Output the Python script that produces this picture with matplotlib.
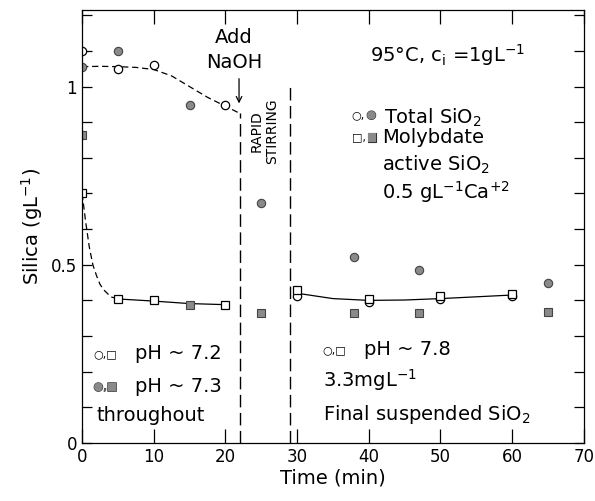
import matplotlib
matplotlib.use("Agg")
from matplotlib import pyplot as plt
from matplotlib import patheffects as pe

plt.rcParams['font.family'] = ['DejaVu Sans']
plt.rcParams['mathtext.fontset'] = 'dejavusans'

# measured points, first period (before NaOH)
t_total_open = [0, 5, 10, 20]
y_total_open = [1.10, 1.05, 1.06, 0.947]
t_total_fill = [0, 5, 15, 25]
y_total_fill = [1.056, 1.10, 0.947, 0.674]
t_moly_open = [0, 5, 10, 20]
y_moly_open = [0.70, 0.404, 0.40, 0.388]
t_moly_fill = [0, 15, 25]
y_moly_fill = [0.865, 0.388, 0.365]

# after NaOH
t_late_open = [30, 40, 50, 60]
y_late_circ = [0.412, 0.395, 0.405, 0.412]
y_late_sq = [0.428, 0.405, 0.413, 0.418]
t_late_fill_c = [38, 47, 65]
y_late_fill_c = [0.522, 0.486, 0.449]
t_late_fill_s = [38, 47, 65]
y_late_fill_s = [0.365, 0.365, 0.368]

# hand drawn trend curves
t_curve1 = [0, 2.5, 5, 7.5, 10, 12.5, 15, 17.5, 20, 22]
y_curve1 = [1.056, 1.057, 1.056, 1.054, 1.048, 1.030, 1.000, 0.970, 0.945, 0.925]
t_curve2 = [0, 0.5, 1, 1.5, 2, 2.5, 3, 4, 5]
y_curve2 = [0.70, 0.62, 0.55, 0.50, 0.47, 0.445, 0.43, 0.41, 0.404]
t_curve3 = [5, 10, 15, 20]
y_curve3 = [0.404, 0.398, 0.391, 0.388]
t_curve4 = [30, 35, 40, 45, 50, 55, 60]
y_curve4 = [0.420, 0.405, 0.400, 0.401, 0.405, 0.410, 0.415]

t_naoh = 22
t_stir_end = 29

fig = plt.figure(figsize=(5.95, 5.01), dpi=100)
ax = fig.add_axes([0.138, 0.116, 0.843, 0.864])

gray = '#8a8a8a'
ax.plot(t_curve1, y_curve1, color='k', lw=0.9, ls=(0, (5, 3)))
ax.plot(t_curve2, y_curve2, color='k', lw=0.9, ls=(0, (5, 3)))
ax.plot(t_curve3, y_curve3, color='k', lw=0.9)
ax.plot(t_curve4, y_curve4, color='k', lw=0.9)

ax.plot([t_naoh, t_naoh], [0, y_curve1[-1]], color='k', lw=1.0, ls=(0, (9, 4)))
ax.plot([t_stir_end, t_stir_end], [0, 1.0], color='k', lw=1.0, ls=(0, (9, 4)))

ms = 6
ax.plot(t_total_open, y_total_open, 'o', ms=ms, mfc='white', mec='k', mew=0.9)
ax.plot(t_late_open, y_late_circ, 'o', ms=ms, mfc='white', mec='k', mew=0.9)
ax.plot(t_total_fill, y_total_fill, 'o', ms=ms, mfc=gray, mec='#444444', mew=0.8)
ax.plot(t_late_fill_c, y_late_fill_c, 'o', ms=ms, mfc=gray, mec='#444444', mew=0.8)
ax.plot(t_moly_open, y_moly_open, 's', ms=ms, mfc='white', mec='k', mew=0.9)
ax.plot(t_late_open, y_late_sq, 's', ms=ms, mfc='white', mec='k', mew=0.9)
ax.plot(t_moly_fill, y_moly_fill, 's', ms=ms, mfc=gray, mec='#444444', mew=0.8)
ax.plot(t_late_fill_s, y_late_fill_s, 's', ms=ms, mfc=gray, mec='#444444', mew=0.8)

ax.set_xlim(0, 70)
ax.set_ylim(0, 1.215)
ax.set_xticks(range(0, 71, 10))
ax.set_yticks([0, 0.5, 1.0])
ax.set_yticklabels(['0', '0.5', '1'])
ax.set_yticks([i / 10 for i in range(0, 13)], minor=True)
ax.tick_params(direction='in', top=True, right=True, labelsize=12, length=10, width=0.9)
ax.tick_params(axis='y', which='both', length=7, width=0.9, direction='in', right=True)
for s in ax.spines.values():
    s.set_linewidth(0.9)

ax.set_xlabel('Time (min)', fontsize=14, labelpad=2)
ax.set_ylabel('Silica (gL$^{-1}$)', fontsize=14, labelpad=4)

fs = 14
ax.text(21.2, 1.137, 'Add', fontsize=fs, ha='center', va='center')
ax.text(21.2, 1.068, 'NaOH', fontsize=fs, ha='center', va='center')
ax.annotate('', xy=(21.9, 0.945), xytext=(21.9, 1.03),
            arrowprops=dict(arrowstyle='->', color='k', lw=0.9))
ax.text(25.4, 0.874, 'RAPID\nSTIRRING', fontsize=10, rotation=90, ha='center', va='center',
        linespacing=1.1)

ax.text(51.0, 1.09, '95°C, c$_\\mathrm{i}$ =1gL$^{-1}$', fontsize=fs, ha='center', va='center')

fill_fx = [pe.withStroke(linewidth=0.8, foreground='#333333')]

# legend symbols (open black, filled gray)
ax.text(37.6, 0.92, '○,', fontsize=8, va='center')
ax.text(39.7, 0.92, '●', fontsize=8, color=gray, va='center', path_effects=fill_fx)
ax.text(42.2, 0.912, 'Total SiO$_2$', fontsize=fs, va='center')
ax.text(37.6, 0.857, '□,', fontsize=8, va='center')
ax.text(39.7, 0.857, '■', fontsize=8, color=gray, va='center', path_effects=fill_fx)
ax.text(41.8, 0.857, 'Molybdate', fontsize=fs, va='center')
ax.text(41.8, 0.78, 'active SiO$_2$', fontsize=fs, va='center')
ax.text(41.8, 0.703, '0.5 gL$^{-1}$Ca$^{+2}$', fontsize=fs, va='center')

ax.text(1.6, 0.25, '○,□', fontsize=8, va='center')
ax.text(7.4, 0.252, 'pH ~ 7.2', fontsize=fs, va='center')
ax.text(1.6, 0.157, '●,■', fontsize=8, color=gray, va='center', path_effects=fill_fx)
ax.text(7.4, 0.157, 'pH ~ 7.3', fontsize=fs, va='center')
ax.text(2.0, 0.078, 'throughout', fontsize=fs, va='center')

ax.text(33.5, 0.26, '○,□', fontsize=8, va='center')
ax.text(39.3, 0.262, 'pH ~ 7.8', fontsize=fs, va='center')
ax.text(33.6, 0.177, '3.3mgL$^{-1}$', fontsize=fs, va='center')
ax.text(33.6, 0.08, 'Final suspended SiO$_2$', fontsize=fs, va='center')

fig.savefig('out.png', dpi=100)
